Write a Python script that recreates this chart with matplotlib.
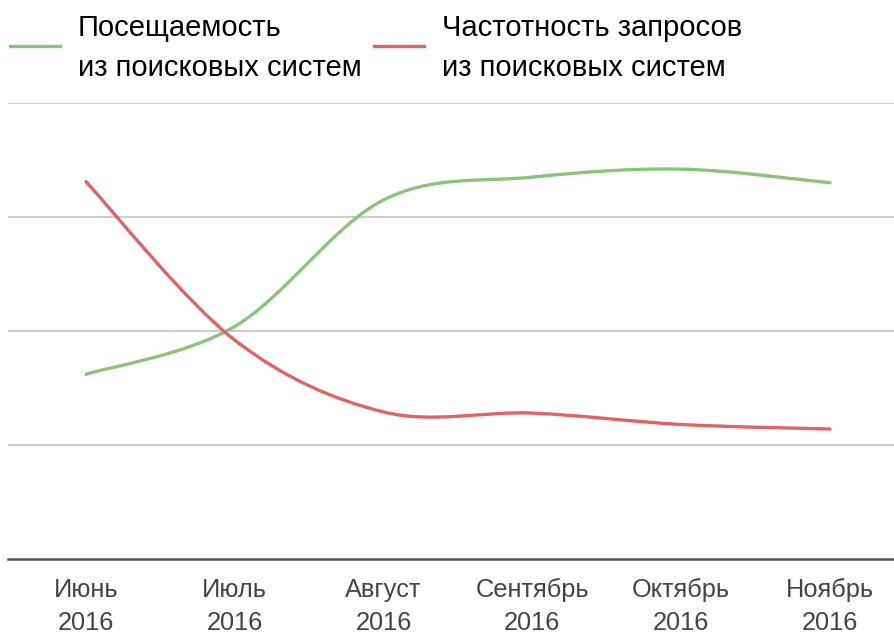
import numpy as np
import matplotlib.pyplot as plt
from matplotlib.path import Path
from matplotlib.patches import PathPatch
from matplotlib.lines import Line2D

months = ['Июнь\n2016', 'Июль\n2016', 'Август\n2016', 'Сентябрь\n2016', 'Октябрь\n2016', 'Ноябрь\n2016']
visits = [162, 204, 315, 335, 342, 330]      # посещаемость
requests = [331, 192, 129, 128, 118, 114]    # частотность запросов
green = '#8ac47a'
red = '#e06464'

plt.rcParams['font.family'] = ['Liberation Sans', 'DejaVu Sans']


def smooth_path(xs, ys, k=0.5):
    # cardinal spline through the points, drawn as cubic bezier segments
    xs = np.asarray(xs, float); ys = np.asarray(ys, float)
    n = len(xs)
    verts = [(xs[0], ys[0])]; codes = [Path.MOVETO]
    for i in range(n - 1):
        i0 = max(i - 1, 0); i3 = min(i + 2, n - 1)
        t1 = ((xs[i + 1] - xs[i0]) * k / 3, (ys[i + 1] - ys[i0]) * k / 3)
        t2 = ((xs[i3] - xs[i]) * k / 3, (ys[i3] - ys[i]) * k / 3)
        verts += [(xs[i] + t1[0], ys[i] + t1[1]),
                  (xs[i + 1] - t2[0], ys[i + 1] - t2[1]),
                  (xs[i + 1], ys[i + 1])]
        codes += [Path.CURVE4] * 3
    return Path(verts, codes)


fig = plt.figure(figsize=(8.94, 6.34), dpi=100)
ax = fig.add_axes([8 / 894, 1 - 559 / 634, 886 / 894, 456 / 634])
x = np.arange(len(months))
for vals, col in [(visits, green), (requests, red)]:
    ax.add_patch(PathPatch(smooth_path(x, vals, 0.5), fill=False, edgecolor=col,
                           lw=2.4, capstyle='round'))
ax.set_xlim(-0.524, 5.43)
ax.set_ylim(0, 400)
ax.set_yticks([100, 200, 300, 400])
ax.yaxis.grid(True, color='#cccccc', lw=1.4)
ax.set_axisbelow(True)
ax.tick_params(left=False, labelleft=False, bottom=False)
ax.set_xticks(x)
ax.set_xticklabels(months, fontsize=18.3, color='#444444', linespacing=1.5)
ax.tick_params(axis='x', pad=10)
for s in ['top', 'right', 'left']:
    ax.spines[s].set_visible(False)
ax.spines['bottom'].set_color('#555555')
ax.spines['bottom'].set_linewidth(1.8)

# легенда сверху
for x0, col, txt in [(10, green, 'Посещаемость\nиз поисковых систем'),
                     (374, red, 'Частотность запросов\nиз поисковых систем')]:
    fig.add_artist(Line2D([x0 / 894, (x0 + 50) / 894], [1 - 46 / 634] * 2,
                          color=col, lw=2.4, transform=fig.transFigure))
    fig.text((x0 + 68) / 894, 1 - 48 / 634, txt, fontsize=21, va='center',
             ha='left', color='#000000', linespacing=1.55)

fig.savefig('out.png', dpi=100)
